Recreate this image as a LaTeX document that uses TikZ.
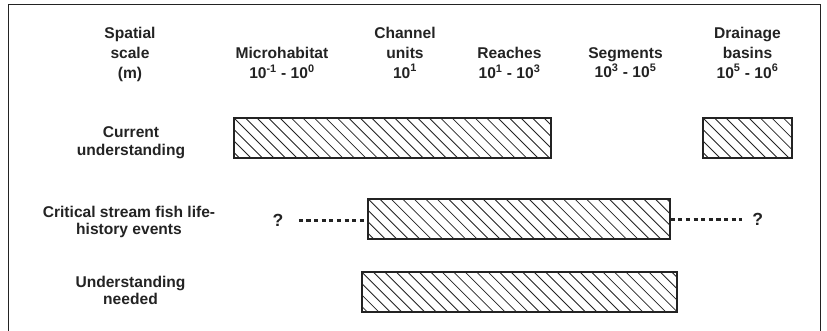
\documentclass[tikz,border=0pt]{standalone}
\usepackage{fontspec}
\setmainfont{Liberation Sans}
\usetikzlibrary{backgrounds}
\definecolor{xink}{RGB}{35,35,35}

\begin{document}
\begin{tikzpicture}[x=0.03cm, y=-0.03cm,
		every node/.style={font=\bfseries\fontsize{13.3}{17}\selectfont, text=xink, align=center, inner sep=0pt},
		rowlabel/.style={font=\bfseries\fontsize{13.3}{15}\selectfont},
		qmark/.style={font=\bfseries\fontsize{15}{17}\selectfont},
		hatchbar/.style={draw=xink, line width=1.3pt, minimum height=40*\px, path picture={
				\foreach \k in {-5,...,31}
					\draw[xink, line width=0.7pt] ([xshift=\k*9.8pt]path picture bounding box.north west) -- ++(40pt,-40pt);
			}},
		dotline/.style={draw=xink, line width=2pt, dash pattern=on 3.5pt off 3pt},
		frameline/.style={xink, line width=1.4pt}]
			\def \px {0.03cm}
			\useasboundingbox (0, 0) rectangle (827, 331);
			\draw[frameline] (8.5, 331) -- (8.5, 4.5) -- (820.5, 4.5) -- (820.5, 331);
			% scale headings
			\node at (130, 54.3) (spatial) {Spatial\\scale\\(m)};
			\node at (282, 62.6) (micro) {Microhabitat\\10\textsuperscript{-1} - 10\textsuperscript{0}};
			\node at (405, 52.6) (channel) {Channel\\units\\10\textsuperscript{1}};
			\node at (509.5, 62.6) (reach) {Reaches\\10\textsuperscript{1} - 10\textsuperscript{3}};
			\node at (625.5, 62.6) (segment) {Segments\\10\textsuperscript{3} - 10\textsuperscript{5}};
			\node at (747.5, 52.6) (basin) {Drainage\\basins\\10\textsuperscript{5} - 10\textsuperscript{6}};
			% rows
			\node[rowlabel] at (131, 142.5) (cur) {Current\\understanding};
			\node[hatchbar, minimum width=317*\px] at (392.5, 138) (curbar) {};
			\node[hatchbar, minimum width=89*\px] at (747.5, 138) (basinbar) {};
			\node[rowlabel] at (129, 222.1) (crit) {Critical stream fish life-\\history events};
			\node[hatchbar, minimum width=302*\px] at (519, 218.8) (critbar) {};
			\node[qmark] at (278, 220.5) (qleft) {?};
			\node[qmark] at (757.7, 219.5) (qright) {?};
			\begin{scope}[on background layer]
				\draw[dotline, shorten <=13pt] (qleft) -- (qleft -| critbar.west);
				\draw[dotline, shorten >=9pt] (qright -| critbar.east) -- (qright);
			\end{scope}
			\node[rowlabel] at (130.5, 290.4) (need) {Understanding\\needed};
			\node[hatchbar, minimum width=315*\px] at (519.5, 292.2) (needbar) {};
		\end{tikzpicture}
\end{document}
